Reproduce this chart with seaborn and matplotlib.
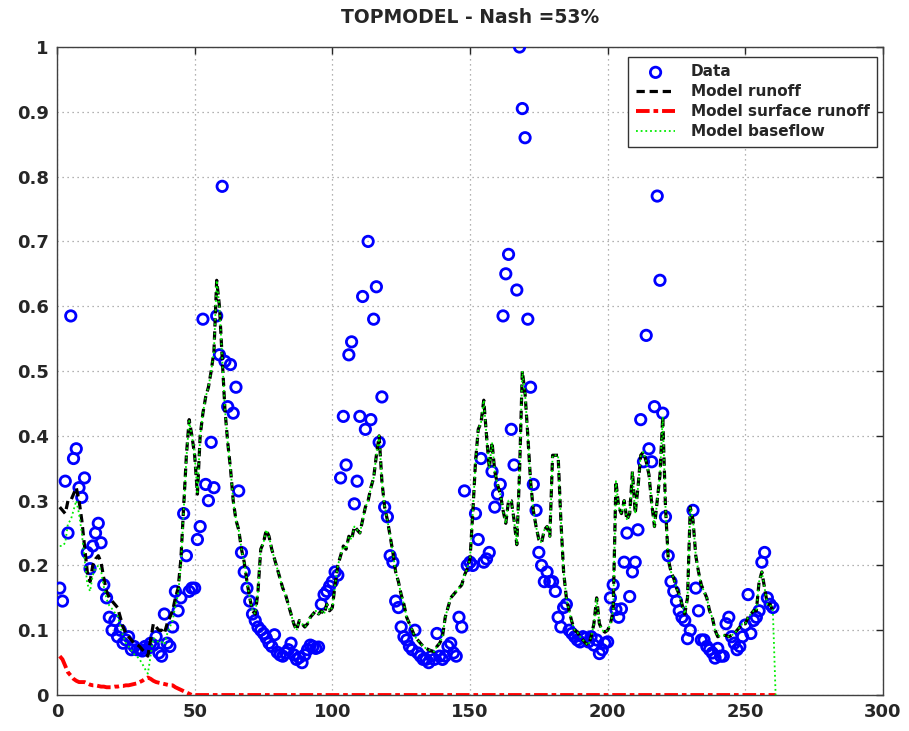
import matplotlib
matplotlib.use("Agg")
import matplotlib.pyplot as plt
import seaborn as sns
import pandas as pd
import numpy as np

# Observed daily flow (days 1..260)
observed = [
    0.165, 0.145, 0.33, 0.25, 0.585, 0.365, 0.38, 0.32, 0.305, 0.335,
    0.22, 0.195, 0.23, 0.25, 0.265, 0.235, 0.17, 0.15, 0.12, 0.10,
    0.115, 0.09, 0.10, 0.08, 0.085, 0.09, 0.07, 0.075, 0.07, 0.07,
    0.068, 0.075, 0.072, 0.08, 0.077, 0.09, 0.065, 0.06, 0.125, 0.08,
    0.075, 0.105, 0.16, 0.13, 0.15, 0.28, 0.215, 0.16, 0.165, 0.165,
    0.24, 0.26, 0.58, 0.325, 0.30, 0.39, 0.32, 0.585, 0.525, 0.785,
    0.515, 0.445, 0.51, 0.435, 0.475, 0.315, 0.22, 0.19, 0.165, 0.145,
    0.125, 0.115, 0.105, 0.10, 0.095, 0.088, 0.08, 0.075, 0.093, 0.066,
    0.062, 0.06, 0.065, 0.07, 0.08, 0.062, 0.055, 0.058, 0.05, 0.062,
    0.07, 0.077, 0.075, 0.072, 0.074, 0.14, 0.155, 0.16, 0.168, 0.175,
    0.19, 0.185, 0.335, 0.43, 0.355, 0.525, 0.545, 0.295, 0.33, 0.43,
    0.615, 0.41, 0.70, 0.425, 0.58, 0.63, 0.39, 0.46, 0.29, 0.275,
    0.215, 0.205, 0.145, 0.135, 0.105, 0.09, 0.085, 0.075, 0.07, 0.10,
    0.065, 0.06, 0.055, 0.055, 0.05, 0.06, 0.055, 0.095, 0.06, 0.055,
    0.06, 0.075, 0.08, 0.065, 0.06, 0.12, 0.105, 0.315, 0.20, 0.205,
    0.20, 0.28, 0.24, 0.365, 0.205, 0.21, 0.22, 0.345, 0.29, 0.31,
    0.325, 0.585, 0.65, 0.68, 0.41, 0.355, 0.625, 1.0, 0.905, 0.86,
    0.58, 0.475, 0.325, 0.285, 0.22, 0.20, 0.175, 0.19, 0.175, 0.175,
    0.16, 0.12, 0.105, 0.135, 0.14, 0.10, 0.095, 0.09, 0.085, 0.082,
    0.09, 0.088, 0.082, 0.09, 0.077, 0.085, 0.064, 0.07, 0.08, 0.082,
    0.15, 0.17, 0.132, 0.12, 0.133, 0.205, 0.25, 0.152, 0.19, 0.205,
    0.255, 0.425, 0.36, 0.555, 0.38, 0.36, 0.445, 0.77, 0.64, 0.435,
    0.275, 0.215, 0.175, 0.16, 0.145, 0.13, 0.12, 0.115, 0.087, 0.10,
    0.285, 0.165, 0.13, 0.085, 0.085, 0.075, 0.07, 0.065, 0.057, 0.072,
    0.06, 0.06, 0.11, 0.12, 0.09, 0.08, 0.07, 0.075, 0.09, 0.108,
    0.155, 0.095, 0.115, 0.12, 0.13, 0.205, 0.22, 0.15, 0.14, 0.135,
]

# Simulated total runoff (days 1..260)
model_runoff = [
    0.29, 0.285, 0.28, 0.30, 0.30, 0.31, 0.32, 0.30, 0.27, 0.23,
    0.19, 0.175, 0.20, 0.21, 0.215, 0.205, 0.18, 0.16, 0.15, 0.145,
    0.14, 0.135, 0.12, 0.105, 0.095, 0.09, 0.085, 0.08, 0.078, 0.075,
    0.07, 0.065, 0.06, 0.085, 0.11, 0.105, 0.10, 0.10, 0.095, 0.11,
    0.12, 0.13, 0.15, 0.165, 0.21, 0.29, 0.37, 0.425, 0.40, 0.37,
    0.31, 0.40, 0.435, 0.46, 0.475, 0.50, 0.53, 0.64, 0.60, 0.52,
    0.44, 0.39, 0.35, 0.30, 0.27, 0.255, 0.225, 0.205, 0.175, 0.15,
    0.13, 0.125, 0.16, 0.225, 0.235, 0.255, 0.245, 0.225, 0.21, 0.195,
    0.18, 0.165, 0.155, 0.14, 0.125, 0.11, 0.10, 0.115, 0.11, 0.105,
    0.11, 0.12, 0.125, 0.13, 0.125, 0.13, 0.125, 0.14, 0.13, 0.135,
    0.17, 0.20, 0.215, 0.23, 0.225, 0.245, 0.24, 0.26, 0.255, 0.25,
    0.27, 0.29, 0.30, 0.32, 0.335, 0.37, 0.40, 0.33, 0.29, 0.27,
    0.245, 0.22, 0.19, 0.175, 0.155, 0.14, 0.12, 0.11, 0.10, 0.09,
    0.085, 0.08, 0.075, 0.072, 0.07, 0.068, 0.067, 0.075, 0.08, 0.09,
    0.12, 0.135, 0.15, 0.155, 0.16, 0.165, 0.17, 0.185, 0.195, 0.21,
    0.28, 0.36, 0.41, 0.42, 0.455, 0.40, 0.35, 0.39, 0.345, 0.325,
    0.31, 0.285, 0.265, 0.30, 0.30, 0.27, 0.232, 0.345, 0.50, 0.465,
    0.40, 0.33, 0.285, 0.26, 0.24, 0.235, 0.255, 0.26, 0.245, 0.37,
    0.37, 0.37, 0.27, 0.19, 0.15, 0.13, 0.113, 0.10, 0.097, 0.09,
    0.085, 0.08, 0.077, 0.09, 0.11, 0.15, 0.11, 0.10, 0.097, 0.10,
    0.11, 0.13, 0.33, 0.29, 0.28, 0.30, 0.27, 0.28, 0.345, 0.28,
    0.32, 0.37, 0.375, 0.36, 0.34, 0.295, 0.26, 0.30, 0.34, 0.43,
    0.29, 0.21, 0.19, 0.18, 0.165, 0.155, 0.14, 0.125, 0.15, 0.29,
    0.27, 0.215, 0.19, 0.17, 0.16, 0.15, 0.13, 0.12, 0.10, 0.09,
    0.092, 0.092, 0.092, 0.09, 0.092, 0.095, 0.10, 0.105, 0.11, 0.11,
    0.12, 0.125, 0.13, 0.13, 0.175, 0.19, 0.165, 0.14, 0.14, 0.13,
]

# Surface runoff is only active during the first 50 days, zero afterwards (to day 261)
surface_first50 = [
    0.06, 0.055, 0.045, 0.035, 0.03, 0.025, 0.022, 0.02, 0.02, 0.02,
    0.018, 0.016, 0.015, 0.015, 0.014, 0.013, 0.013, 0.012, 0.012, 0.012,
    0.013, 0.013, 0.014, 0.014, 0.015, 0.015, 0.016, 0.017, 0.018, 0.02,
    0.022, 0.025, 0.027, 0.025, 0.022, 0.02, 0.019, 0.018, 0.017, 0.016,
    0.015, 0.015, 0.012, 0.01, 0.008, 0.006, 0.004, 0.002, 0.0, 0.0,
]
surface_runoff = surface_first50 + [0.0] * 211

# Baseflow: distinct in the first 50 days, then coincides with total runoff,
# closing at zero on day 261
baseflow_first50 = [
    0.23, 0.23, 0.235, 0.265, 0.27, 0.285, 0.30, 0.28, 0.25, 0.21,
    0.172, 0.16, 0.185, 0.195, 0.20, 0.192, 0.167, 0.148, 0.138, 0.133,
    0.127, 0.122, 0.106, 0.091, 0.08, 0.075, 0.069, 0.063, 0.06, 0.055,
    0.048, 0.04, 0.033, 0.06, 0.088, 0.085, 0.081, 0.082, 0.078, 0.094,
    0.105, 0.115, 0.138, 0.155, 0.202, 0.284, 0.366, 0.423, 0.40, 0.37,
]
baseflow = baseflow_first50 + model_runoff[50:] + [0.0]

x_ticks = [0, 50, 100, 150, 200, 250, 300]
y_ticks = [0, 0.1, 0.2, 0.3, 0.4, 0.5, 0.6, 0.7, 0.8, 0.9, 1]
y_tick_labels = ["0", "0.1", "0.2", "0.3", "0.4", "0.5", "0.6", "0.7", "0.8", "0.9", "1"]

obs_df = pd.DataFrame({"day": np.arange(1, len(observed) + 1), "flow": observed})
run_df = pd.DataFrame({"day": np.arange(1, len(model_runoff) + 1), "flow": model_runoff})
sur_df = pd.DataFrame({"day": np.arange(1, len(surface_runoff) + 1), "flow": surface_runoff})
base_df = pd.DataFrame({"day": np.arange(1, len(baseflow) + 1), "flow": baseflow})

sns.set_style("white")
plt.rcParams["font.family"] = ["DejaVu Sans"]

fig = plt.figure(figsize=(9.09, 7.31), dpi=100)
ax = fig.add_axes([0.0627, 0.0492, 0.9087, 0.8865])

sns.scatterplot(data=obs_df, x="day", y="flow", ax=ax, marker="o", s=56,
                facecolors="none", edgecolor="#0000ff", linewidth=2.0,
                label="Data", zorder=3)
sns.lineplot(data=run_df, x="day", y="flow", ax=ax, color="black",
             linewidth=2.3, sort=False, estimator=None,
             label="Model runoff", zorder=4).lines[-1].set_dashes((2.6, 1.5))
sns.lineplot(data=sur_df, x="day", y="flow", ax=ax, color="#ff0000",
             linewidth=2.8, sort=False, estimator=None,
             label="Model surface runoff", zorder=4).lines[-1].set_dashes((3.5, 1.0, 1.2, 1.0))
sns.lineplot(data=base_df, x="day", y="flow", ax=ax, color="#00ee00",
             linewidth=1.3, sort=False, estimator=None,
             label="Model baseflow", zorder=5).lines[-1].set_dashes((1, 1.6))

ax.set_xlim(0, 300)
ax.set_ylim(0, 1)
ax.set_xticks(x_ticks)
ax.set_xticklabels([str(t) for t in x_ticks])
ax.set_yticks(y_ticks)
ax.set_yticklabels(y_tick_labels)
ax.set_xlabel("")
ax.set_ylabel("")
ax.grid(True, linestyle=(0, (1, 3)), color="#999999", linewidth=0.9)
ax.tick_params(direction="in", length=5, width=1, labelsize=13,
               top=True, right=True, pad=6)
for lab in ax.get_xticklabels() + ax.get_yticklabels():
    lab.set_fontweight("bold")
for sp in ax.spines.values():
    sp.set_color("#404040")
    sp.set_linewidth(1.0)

ax.set_title("TOPMODEL - Nash =53%", fontsize=13.5, fontweight="bold", pad=17)

handles, labels = ax.get_legend_handles_labels()
leg = ax.legend(handles, labels, loc="upper right", bbox_to_anchor=(0.993, 0.985),
                borderaxespad=0, frameon=True, fancybox=False, framealpha=1,
                edgecolor="#333333", labelspacing=0.32, handlelength=2.6,
                handletextpad=1.0, borderpad=0.5,
                prop={"size": 11, "weight": "bold"})
leg.get_frame().set_linewidth(1.0)
leg.set_zorder(10)

fig.savefig("out.png", dpi=100, facecolor="white")
